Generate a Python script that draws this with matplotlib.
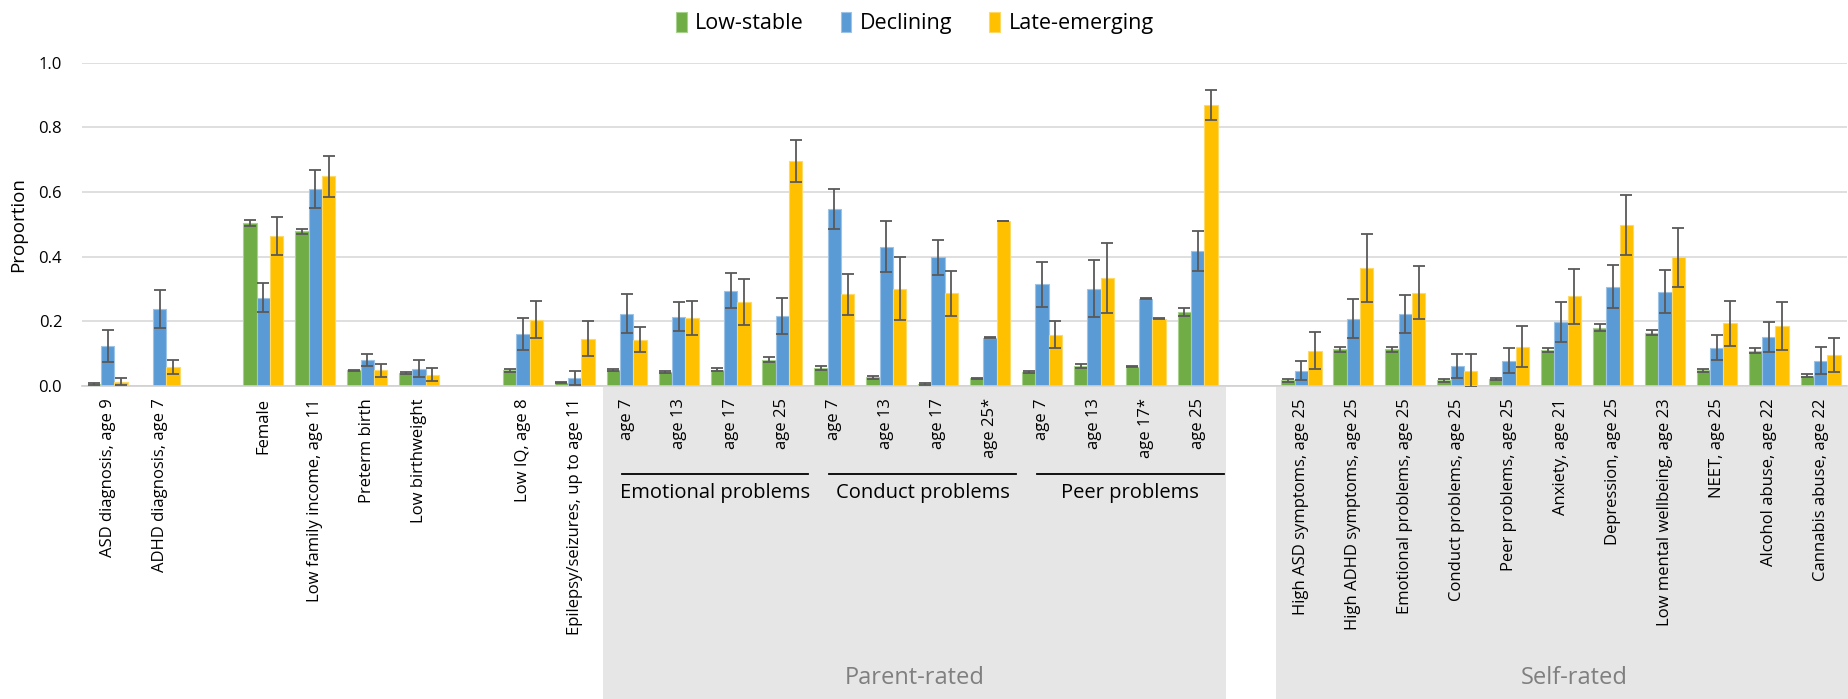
import numpy as np
import matplotlib.pyplot as plt
from matplotlib.patches import Rectangle
from matplotlib.lines import Line2D
from matplotlib.transforms import blended_transform_factory

plt.rcParams['font.family'] = ['Open Sans', 'DejaVu Sans']

nan = np.nan

# one slot per category, '' = spacer between blocks
labels = ["ASD diagnosis, age 9", "ADHD diagnosis, age 7", "",
          "Female", "Low family income, age 11", "Preterm birth", "Low birthweight", "",
          "Low IQ, age 8", "Epilepsy/seizures, up to age 11",
          "age 7", "age 13", "age 17", "age 25",
          "age 7", "age 13", "age 17", "age 25*",
          "age 7", "age 13", "age 17*", "age 25", "",
          "High ASD symptoms, age 25", "High ADHD symptoms, age 25",
          "Emotional problems, age 25", "Conduct problems, age 25",
          "Peer problems, age 25", "Anxiety, age 21", "Depression, age 25",
          "Low mental wellbeing, age 23", "NEET, age 25", "Alcohol abuse, age 22",
          "Cannabis abuse, age 22"]

low_stable = [0.006, nan, nan, 0.505, 0.478, 0.048, 0.040, nan, 0.048, 0.010,
              0.048, 0.043, 0.050, 0.081, 0.055, 0.026, 0.007, 0.023,
              0.043, 0.062, 0.059, 0.229, nan,
              0.017, 0.113, 0.113, 0.017, 0.021, 0.112, 0.180, 0.165, 0.048, 0.109, 0.032]
low_stable_err = [0.003, nan, nan, 0.009, 0.009, 0.002, 0.004, nan, 0.005, 0.002,
                  0.003, 0.004, 0.005, 0.007, 0.007, 0.006, 0.003, 0.001,
                  0.004, 0.006, 0.001, 0.013, nan,
                  0.005, 0.007, 0.007, 0.004, 0.003, 0.006, 0.011, 0.009, 0.005, 0.007, 0.006]

declining = [0.123, 0.239, nan, 0.273, 0.609, 0.079, 0.053, nan, 0.161, 0.025,
             0.224, 0.214, 0.295, 0.217, 0.549, 0.431, 0.398, 0.149,
             0.314, 0.301, 0.270, 0.418, nan,
             0.047, 0.208, 0.222, 0.062, 0.078, 0.199, 0.307, 0.292, 0.118, 0.152, 0.078]
declining_err = [0.050, 0.059, nan, 0.045, 0.058, 0.019, 0.026, nan, 0.049, 0.022,
                 0.059, 0.045, 0.054, 0.056, 0.062, 0.079, 0.054, 0.001,
                 0.069, 0.088, 0.001, 0.063, nan,
                 0.029, 0.060, 0.058, 0.038, 0.039, 0.062, 0.066, 0.067, 0.039, 0.047, 0.041]

late_emerging = [0.013, 0.059, nan, 0.463, 0.649, 0.048, 0.035, nan, 0.205, 0.146,
                 0.143, 0.211, 0.260, 0.696, 0.283, 0.301, 0.286, 0.510,
                 0.158, 0.333, 0.208, 0.870, nan,
                 0.109, 0.366, 0.289, 0.047, 0.121, 0.277, 0.497, 0.398, 0.194, 0.186, 0.096]
late_emerging_err = [0.010, 0.021, nan, 0.059, 0.064, 0.021, 0.020, nan, 0.058, 0.054,
                     0.039, 0.052, 0.072, 0.066, 0.064, 0.097, 0.071, 0.001,
                     0.042, 0.108, 0.001, 0.047, nan,
                     0.058, 0.105, 0.082, 0.052, 0.064, 0.084, 0.093, 0.092, 0.070, 0.075, 0.053]

series = [("Low-stable", low_stable, low_stable_err, "#70AD47", "#A9D18E"),
          ("Declining", declining, declining_err, "#5B9BD5", "#9DC3E6"),
          ("Late-emerging", late_emerging, late_emerging_err, "#FFC000", "#FFD966")]

# (title, first slot, last slot) for the parent-rated subscales
subgroups = [("Emotional problems", 10, 13),
             ("Conduct problems", 14, 17),
             ("Peer problems", 18, 21)]

fig = plt.figure(figsize=(18.48, 6.99), dpi=100)
ax = fig.add_axes([0.0442, 0.448, 0.9550, 0.462])

x = np.arange(len(labels))
w = 0.257
for i, (name, vals, errs, col, edge) in enumerate(series):
    ax.bar(x + (i - 1) * w, vals, w, color=col, edgecolor=edge, linewidth=0.8,
           label=name, zorder=2)
    ax.errorbar(x + (i - 1) * w, vals, yerr=errs, fmt='none', ecolor='#595959',
                elinewidth=1.3, capsize=4, capthick=1.3, zorder=3)

ax.set_xlim(-0.5, len(labels) - 0.5)
ax.set_ylim(0, 1.0)
ax.set_yticks(np.arange(0, 1.01, 0.2))
ax.set_yticklabels([f"{v:.1f}" for v in np.arange(0, 1.01, 0.2)], fontsize=12)
ax.set_xticks(x)
ax.set_xticklabels(labels, rotation=90, fontsize=12)
ax.tick_params(axis='both', length=0)
ax.tick_params(axis='x', pad=9)
ax.tick_params(axis='y', pad=14)
ax.set_ylabel("Proportion", fontsize=13.5, labelpad=8)
ax.grid(axis='y', color='#D9D9D9', linewidth=1.2, zorder=0)
for side in ['top', 'right', 'left']:
    ax.spines[side].set_visible(False)
ax.spines['bottom'].set_color('#D0D0D0')
ax.spines['bottom'].set_linewidth(1.2)

# shaded rater blocks under the axis
trans = blended_transform_factory(ax.transData, fig.transFigure)
y_top = 0.447
for x0, x1, title in [(9.55, 21.55, "Parent-rated"), (22.5, 34.0, "Self-rated")]:
    ax.add_patch(Rectangle((x0, 0), x1 - x0, y_top, transform=trans,
                           facecolor='#E6E6E6', edgecolor='none', clip_on=False, zorder=0))
    ax.text((x0 + x1) / 2, 0.03, title, transform=trans, ha='center', va='center',
            fontsize=17, color='#7F7F7F')

for title, a, b in subgroups:
    ax.add_line(Line2D([a - 0.1, b + 0.5], [0.322, 0.322], transform=trans,
                       color='black', linewidth=1.3, clip_on=False))
    ax.text((a - 0.1 + b + 0.5) / 2, 0.295, title, transform=trans,
            ha='center', va='center', fontsize=14.5)

handles, names = ax.get_legend_handles_labels()
fig.legend(handles, names, loc='upper center', bbox_to_anchor=(0.495, 1.01),
           ncol=3, frameon=False, fontsize=15.5, handlelength=0.5, handleheight=1.0,
           handletextpad=0.4, columnspacing=1.7)

fig.savefig("out.png", dpi=100)
